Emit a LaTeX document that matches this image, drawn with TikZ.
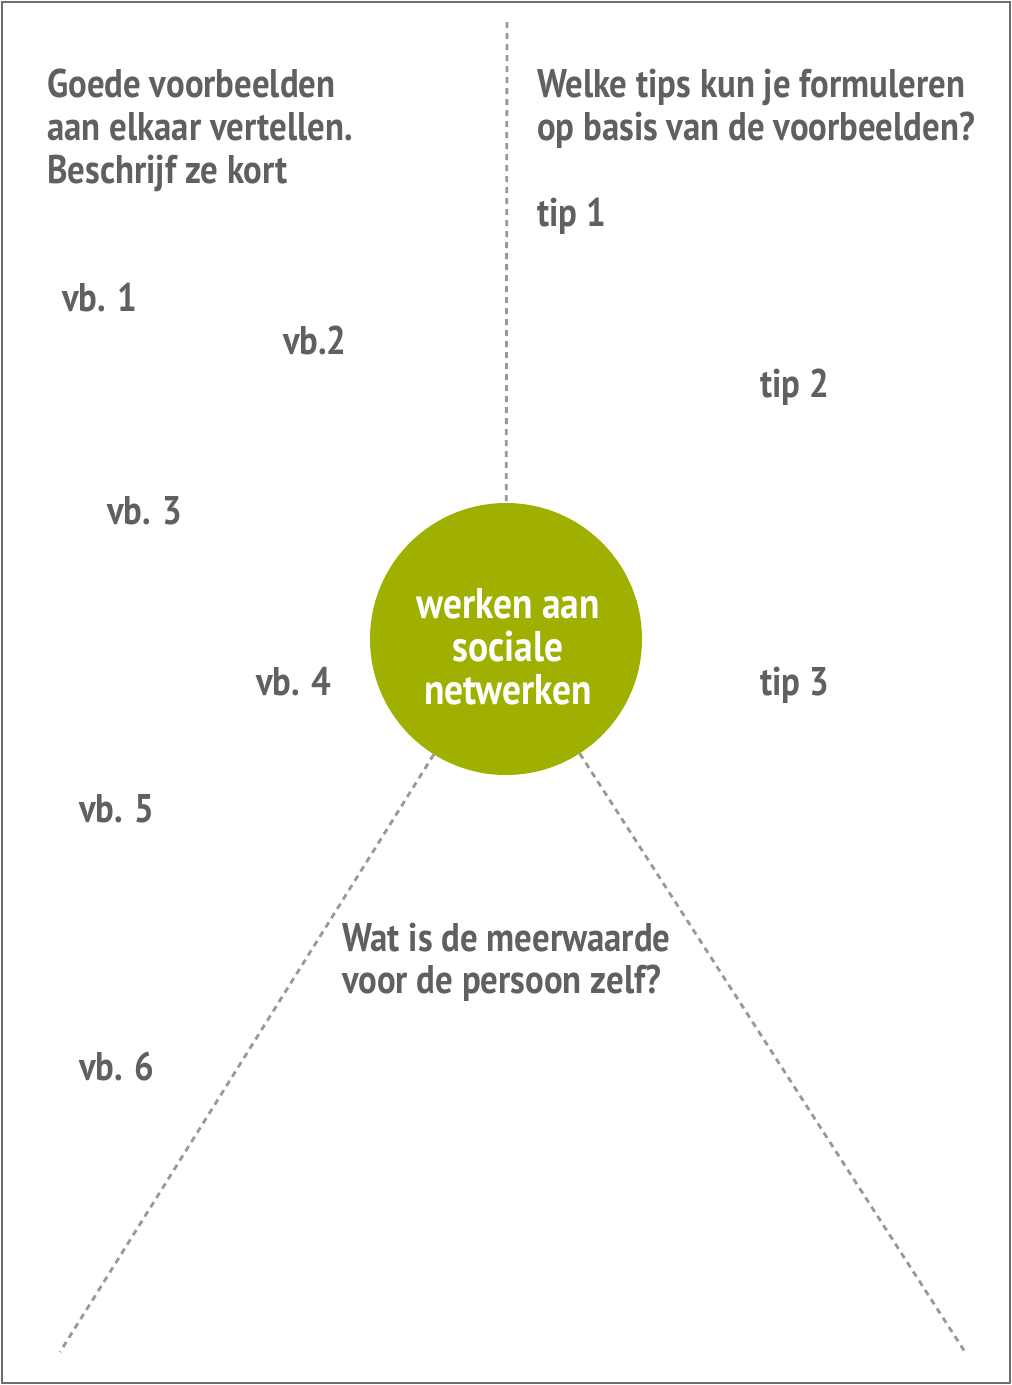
\documentclass[tikz,border=0pt]{standalone}
\usepackage{fontspec}
\setmainfont{PT Sans}[FakeStretch=0.87]
\definecolor{txtgray}{HTML}{606060}
\definecolor{framegray}{HTML}{6E6E6E}
\definecolor{dashgray}{HTML}{999999}
\definecolor{hubgreen}{HTML}{A0B000}
\tikzset{
  lbl/.style={anchor=base west, inner sep=0pt, text=txtgray, font=\fontsize{40}{43}\selectfont\bfseries},
  dashline/.style={draw=dashgray, line width=2.8pt, dash pattern=on 6pt off 5pt},
}
\begin{document}
\begin{tikzpicture}[x=1pt,y=-1pt]
\useasboundingbox (0,0) rectangle (1012,1385);
\fill[white] (0,0) rectangle (1012,1385);
\draw[framegray, line width=2.5pt] (2,2) rectangle (1010,1383);

\node[circle, fill=hubgreen, minimum size=272pt, inner sep=0pt] (hub) at (506,639) {};
\node[align=center, text=white, inner sep=0pt, font=\fontsize{43}{43}\selectfont\bfseries] (hubtext) at (508,647) {werken aan\\sociale\\netwerken};

\coordinate (top) at (507,22);
\coordinate (bl) at (60,1352);
\coordinate (br) at (965,1352);
\draw[dashline] (top) -- (hub);
\draw[dashline] (hub) -- (bl);
\draw[dashline] (hub) -- (br);

\node[lbl] (t1) at (47,97) {Goede voorbeelden};
\node[lbl] (t2) at (47,140) {aan elkaar vertellen.};
\node[lbl] (t3) at (47,183) {Beschrijf ze kort};
\node[lbl] (q1) at (537,97) {Welke tips kun je formuleren};
\node[lbl] (q2) at (537,140) {op basis van de voorbeelden?};
\node[lbl] (tip1) at (537,226) {tip 1};
\node[lbl] (vb1) at (62,311) {vb. 1};
\node[lbl] (vb2) at (283,354) {vb.2};
\node[lbl] (tip2) at (760,397) {tip 2};
\node[lbl] (vb3) at (107,524) {vb. 3};
\node[lbl] (vb4) at (256,695) {vb. 4};
\node[lbl] (tip3) at (760,695) {tip 3};
\node[lbl] (vb5) at (79,822) {vb. 5};
\node[lbl] (w1) at (342,951) {Wat is de meerwaarde};
\node[lbl] (w2) at (342,993) {voor de persoon zelf?};
\node[lbl] (vb6) at (79,1080) {vb. 6};
\end{tikzpicture}
\end{document}
